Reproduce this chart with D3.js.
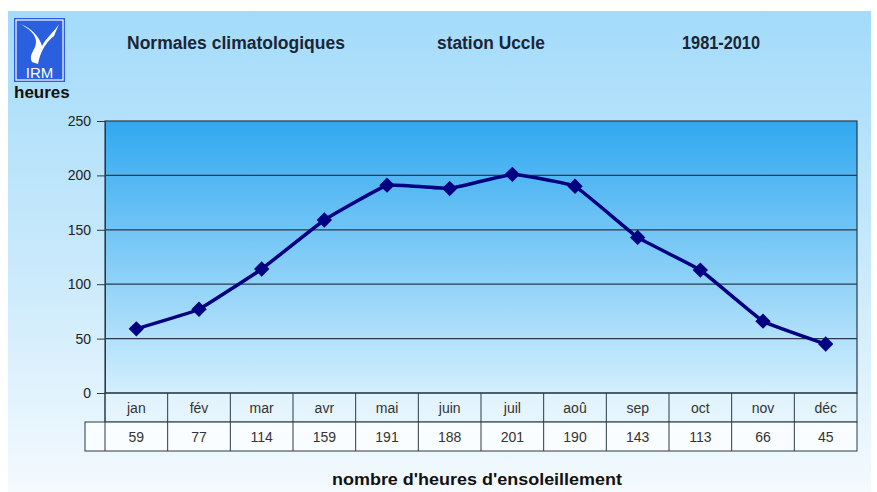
<!DOCTYPE html>
<html>
<head>
<meta charset="utf-8">
<script src="https://cdn.jsdelivr.net/npm/d3@7"></script>
<style>
  body { margin: 0; background: #fff; }
  svg { display: block; font-family: "Liberation Sans", Arial, sans-serif; }
</style>
</head>
<body>
<div id="chart"></div>
<script>
const months = ['jan', 'fév', 'mar', 'avr', 'mai', 'juin', 'juil', 'aoû', 'sep', 'oct', 'nov', 'déc'];
const sunHours = [59, 77, 114, 159, 191, 188, 201, 190, 143, 113, 66, 45];
const yTicks = [0, 50, 100, 150, 200, 250];
const titles = ['Normales climatologiques', 'station Uccle', '1981-2010'];

const W = 877, H = 492;
const plot = {left: 105, right: 857, top: 121, bottom: 393};
const rowH = 29;

const svg = d3.select('#chart').append('svg')
  .attr('width', W)
  .attr('height', H);

const defs = svg.append('defs');
const bgGrad = defs.append('linearGradient').attr('id', 'bg').attr('x1', 0).attr('y1', 0).attr('x2', 0).attr('y2', 1);
bgGrad.append('stop').attr('offset', '0%').attr('stop-color', '#a3dbfa');
bgGrad.append('stop').attr('offset', '55%').attr('stop-color', '#cbeafb');
bgGrad.append('stop').attr('offset', '100%').attr('stop-color', '#f4fafe');

const plotGrad = defs.append('linearGradient').attr('id', 'plotbg').attr('x1', 0).attr('y1', 0).attr('x2', 0).attr('y2', 1);
plotGrad.append('stop').attr('offset', '0%').attr('stop-color', '#30a8f0');
plotGrad.append('stop').attr('offset', '100%').attr('stop-color', '#d2effd');

// outer panel
svg.append('rect')
  .attr('x', 8).attr('y', 11)
  .attr('width', 863).attr('height', H - 11)
  .attr('fill', 'url(#bg)');

const x = d3.scaleBand().domain(months).range([plot.left, plot.right]);
const y = d3.scaleLinear().domain([0, 250]).range([plot.bottom, plot.top]);

// plot area
svg.append('rect')
  .attr('x', plot.left).attr('y', plot.top)
  .attr('width', plot.right - plot.left).attr('height', plot.bottom - plot.top)
  .attr('fill', 'url(#plotbg)')
  .attr('stroke', '#2a3a48').attr('stroke-width', 1.2);

// gridlines
svg.append('g')
  .selectAll('line')
  .data(yTicks.filter((d) => d > 0 && d < 250))
  .join('line')
  .attr('x1', plot.left).attr('x2', plot.right)
  .attr('y1', (d) => y(d)).attr('y2', (d) => y(d))
  .attr('stroke', '#2a3a48').attr('stroke-width', 1.2);

// y axis
const yAxis = svg.append('g')
  .attr('transform', `translate(${plot.left},0)`)
  .call(d3.axisLeft(y).tickValues(yTicks).tickSize(8).tickPadding(6));
yAxis.select('.domain').attr('stroke', '#2a3a48');
yAxis.selectAll('.tick line').attr('stroke', '#2a3a48');
yAxis.selectAll('.tick text')
  .attr('font-size', 14)
  .attr('fill', '#222')
  .attr('font-family', '"Liberation Sans", Arial, sans-serif');

// data table
const table = svg.append('g');
const tableTop = plot.bottom;
table.append('rect')
  .attr('x', plot.left).attr('y', tableTop)
  .attr('width', plot.right - plot.left).attr('height', rowH)
  .attr('fill', 'none').attr('stroke', '#2a3a48');
table.append('rect')
  .attr('x', 85).attr('y', tableTop + rowH)
  .attr('width', plot.right - 85).attr('height', rowH)
  .attr('fill', '#ffffff').attr('fill-opacity', 0.75)
  .attr('stroke', '#2a3a48');
table.append('line')
  .attr('x1', plot.left).attr('x2', plot.left)
  .attr('y1', tableTop).attr('y2', tableTop + 2 * rowH)
  .attr('stroke', '#2a3a48');
table.selectAll('line.sep')
  .data(months.slice(1))
  .join('line')
  .attr('class', 'sep')
  .attr('x1', (d) => x(d)).attr('x2', (d) => x(d))
  .attr('y1', tableTop).attr('y2', tableTop + 2 * rowH)
  .attr('stroke', '#2a3a48');
table.selectAll('text.month')
  .data(months)
  .join('text')
  .attr('class', 'month')
  .attr('x', (d) => x(d) + x.bandwidth() / 2)
  .attr('y', tableTop + 20)
  .attr('text-anchor', 'middle')
  .attr('font-size', 14)
  .attr('fill', '#333')
  .text((d) => d);
table.selectAll('text.val')
  .data(sunHours)
  .join('text')
  .attr('class', 'val')
  .attr('x', (d, i) => x(months[i]) + x.bandwidth() / 2)
  .attr('y', tableTop + rowH + 20)
  .attr('text-anchor', 'middle')
  .attr('font-size', 14)
  .attr('fill', '#333')
  .text((d) => d);

// line + markers
const line = d3.line()
  .x((d, i) => x(months[i]) + x.bandwidth() / 2)
  .y((d) => y(d))
  .curve(d3.curveCardinal.tension(0.75));

svg.append('path')
  .datum(sunHours)
  .attr('d', line)
  .attr('fill', 'none')
  .attr('stroke', '#000080')
  .attr('stroke-width', 3.5);

svg.append('g')
  .selectAll('path')
  .data(sunHours)
  .join('path')
  .attr('d', d3.symbol(d3.symbolDiamond2, 150))
  .attr('transform', (d, i) => `translate(${x(months[i]) + x.bandwidth() / 2},${y(d)})`)
  .attr('fill', '#000080');

// titles (narrow bold face, squeezed to the widths seen in the original)
const titleX = [236, 491, 721];
const titleLen = [218, 108, 78];
svg.append('g')
  .selectAll('text')
  .data(titles)
  .join('text')
  .attr('x', (d, i) => titleX[i])
  .attr('y', 49)
  .attr('text-anchor', 'middle')
  .attr('font-size', 18)
  .attr('font-weight', 'bold')
  .attr('fill', '#1b2535')
  .attr('textLength', (d, i) => titleLen[i])
  .attr('lengthAdjust', 'spacingAndGlyphs')
  .text((d) => d);

svg.append('text')
  .attr('x', 14).attr('y', 98)
  .attr('font-size', 17)
  .attr('font-weight', 'bold')
  .attr('fill', '#111')
  .text('heures');

svg.append('text')
  .attr('x', 477).attr('y', 485)
  .attr('text-anchor', 'middle')
  .attr('font-size', 16)
  .attr('font-weight', 'bold')
  .attr('fill', '#111')
  .attr('textLength', 290)
  .attr('lengthAdjust', 'spacingAndGlyphs')
  .text("nombre d'heures d'ensoleillement");

// IRM logo
const logo = svg.append('g').attr('transform', 'translate(14,18)');
logo.append('rect').attr('width', 51).attr('height', 64).attr('fill', '#2a5fe0');
logo.append('rect').attr('x', 2).attr('y', 2).attr('width', 47).attr('height', 60)
  .attr('fill', 'none').attr('stroke', '#ffffff').attr('stroke-width', 1.2);
logo.append('path')
  .attr('d', 'M6,6 C14,10 22,16 22,24 C22,32 14,36 18,44 L24,46 C26,36 30,26 40,18 L45,6 C40,14 32,20 28,28 C26,20 18,10 6,6 Z')
  .attr('fill', '#ffffff');
logo.append('text')
  .attr('x', 25.5).attr('y', 60)
  .attr('text-anchor', 'middle')
  .attr('font-size', 15)
  .attr('fill', '#ffffff')
  .text('IRM');
</script>
</body>
</html>
